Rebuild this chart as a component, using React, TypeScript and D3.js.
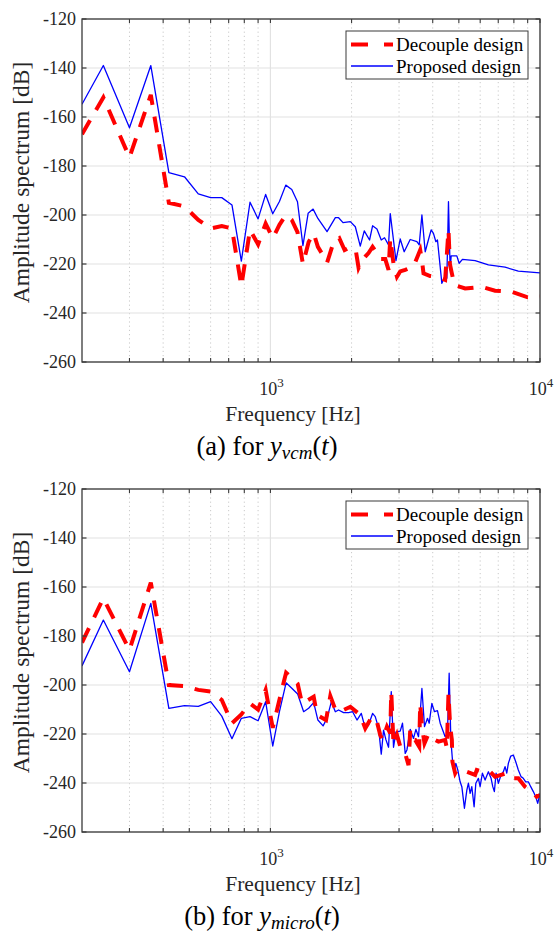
import React from "react";
import * as d3 from "d3";

// ---------- data ----------
// Panel (a): y_vcm
const aDecoupleFreq = [200,240,300,360,420,480,540,600,660,720,780,840,900,960,1020,1080,1140,1200,1260,1320,1386,1447,1500,1568,1622,1716,1801,1884,1979,2077,2123,2173,2248,2312,2393,2484,2555,2667,2743,2783,2862,2947,3030,3162,3394,3594,3647,3697,3914,4201,4448,4576,4631,4710,4815,5275,6083,6813,7856,9003,10000];
const aDecoupleAmp = [-167,-152,-176.5,-151,-195,-196.5,-202,-205.5,-204.5,-205.5,-229,-206,-212,-203.5,-209.5,-204,-200,-202,-207,-220,-211,-207.5,-213,-216.5,-219.5,-211,-209.5,-214.3,-213,-215,-221.5,-219,-217,-215.5,-213,-215.5,-218,-218,-222.4,-209.5,-220,-225.2,-223,-222.4,-221,-214.3,-218.4,-223.8,-224.9,-225.4,-226.5,-206.1,-220,-223.8,-228.6,-230,-229.3,-230.9,-231.3,-233.6,-233.3];
const aProposedFreq = [200,240,300,360,420,480,540,600,660,720,780,840,900,960,1020,1080,1140,1200,1260,1320,1380,1440,1500,1622,1741,1790,1859,1979,2065,2154,2229,2332,2393,2484,2577,2650,2743,2783,2922,3030,3135,3300,3494,3564,3647,3751,3858,3947,4025,4109,4165,4325,4422,4513,4576,4642,4682,4914,5012,5155,5745,6435,7420,8310,10000];
const aProposedAmp = [-154.8,-139,-164.4,-139,-182.7,-184.4,-191.4,-192.9,-192.9,-195.9,-218.8,-194.8,-201.6,-191.6,-199.5,-194.5,-187.8,-189.6,-194.6,-212.5,-199.3,-197.6,-201.4,-206.8,-201.1,-201.1,-203.1,-202.7,-204.8,-212.7,-206.5,-210.2,-204.4,-205.7,-210.2,-209.3,-212.2,-199.4,-218.6,-209.8,-215,-210,-210.9,-212.2,-200,-215,-210,-206.1,-207.5,-210.9,-210.2,-227.9,-225.4,-225.8,-194.6,-222.4,-216.7,-216.7,-219.7,-218.1,-218.6,-220.4,-221.3,-222.9,-223.6];

// Panel (b): y_micro
const bDecoupleFreq = [200,240,300,360,420,480,540,600,660,720,780,840,900,960,1020,1080,1143,1203,1262,1310,1386,1447,1489,1608,1668,1741,1801,1979,2154,2248,2380,2484,2555,2606,2706,2783,2807,2862,2947,3030,3162,3253,3300,3394,3444,3564,3594,3647,3729,3858,3971,4201,4448,4513,4576,4642,4710,4734,4844,4914,5129,5353,5745,5829,6166,6529,6813,7528,7856,8310,8799,9183,9723,10000];
const bDecoupleAmp = [-182.7,-164.6,-185.7,-158.2,-200,-200.4,-202,-202.7,-206.1,-215.6,-212,-207.5,-210,-202,-217.5,-206,-195,-197.3,-199.5,-207.5,-206,-204.8,-212.2,-214.3,-204.5,-210,-211,-208.9,-212.2,-217.7,-212.9,-215,-220.4,-222.4,-217,-219.7,-202.7,-224.5,-220.4,-225,-228,-232.7,-218.4,-222.4,-222.4,-225.2,-207.5,-217,-223.8,-220,-221.8,-223.1,-222.4,-225.8,-203.4,-217,-222.4,-231.3,-236,-234.7,-235.4,-235.4,-236.7,-234.7,-235.4,-235.4,-237.4,-236,-238.1,-238.1,-241.5,-242.9,-245.6,-244.9];
const bProposedFreq = [200,240,300,360,420,480,540,600,660,720,780,840,900,960,1020,1080,1143,1203,1262,1328,1386,1447,1500,1568,1622,1683,1741,1790,1868,1950,2018,2095,2173,2248,2312,2393,2448,2518,2577,2628,2683,2743,2807,2862,2922,3030,3090,3162,3209,3300,3394,3465,3543,3647,3729,3825,3881,3971,4060,4165,4263,4448,4537,4603,4670,4734,4803,4873,4956,5055,5129,5244,5353,5426,5506,5585,5696,5780,5909,5995,6114,6257,6435,6585,6681,6772,6871,7008,7171,7313,7420,7528,7631,7789,7963,8128,8310,8503,8671,8851,9050,9238,9446,9640,9806,10000];
const bProposedAmp = [-192.2,-173.5,-194.6,-166.7,-209.5,-208.4,-208.7,-206.8,-212.7,-221.9,-213.6,-212.9,-214.6,-206.8,-224.9,-210.9,-199.1,-201.4,-203.7,-210.9,-209.5,-207.2,-214.3,-216.7,-213.6,-206.8,-210.9,-210.2,-211.3,-211.3,-210.9,-214.3,-211.6,-217.7,-216.3,-211.6,-212.9,-217.5,-228.2,-218.4,-222.4,-225.4,-202.7,-225.4,-219.1,-218.8,-215.6,-227.9,-226.5,-218.1,-221.8,-218.1,-221.1,-201.4,-217,-213.6,-215.6,-207.5,-210.9,-210.5,-215.6,-221.1,-219.7,-195.2,-222.4,-230.6,-235.4,-232,-234.7,-239.5,-241.5,-250.3,-242.9,-240.1,-244.2,-241.5,-249.7,-240.1,-238.1,-241.5,-236,-238.8,-235.4,-238.1,-241.5,-243.5,-236,-240.1,-236.7,-235.4,-233.3,-236,-232,-229,-228.6,-231.3,-234.7,-237.4,-238.1,-239.5,-239.5,-241.5,-243.5,-245.6,-248.3,-244.2];

const yTicks = [-260, -240, -220, -200, -180, -160, -140, -120];
const xMajorTicks = [1000, 10000];
const xMajorLabels = ["3", "4"];
const xMinorTicks = [300, 400, 500, 600, 700, 800, 900, 2000, 3000, 4000, 5000, 6000, 7000, 8000, 9000];
const seriesNames = ["Decouple design", "Proposed design"];

const FONT = "Liberation Serif";
const W = 555;
const H = 933;

const L = 82, R = 540;

type PanelProps = {
  top: number;
  id: string;
  dFreq: number[];
  dAmp: number[];
  pFreq: number[];
  pAmp: number[];
  capLetter: string;
  capSub: string;
  capX: number;
};

function Panel({ top, id, dFreq, dAmp, pFreq, pAmp, capLetter, capSub, capX }: PanelProps) {
  const bottom = top + 343;
  const x = d3.scaleLog().domain([200, 10000]).range([L, R]);
  const y = d3.scaleLinear().domain([-260, -120]).range([bottom, top]);
  const line = d3
    .line<[number, number]>()
    .x((d) => x(d[0]))
    .y((d) => y(d[1]));
  const dPts = dFreq.map((f, i) => [f, dAmp[i]] as [number, number]);
  const pPts = pFreq.map((f, i) => [f, pAmp[i]] as [number, number]);
  const axisColor = "#3a3a3a";
  const legX = 346, legY = top + 12, legW = 182, legH = 48;
  return (
    <g>
      <defs>
        <clipPath id={"clip" + id}>
          <rect x={L} y={top} width={R - L} height={bottom - top} />
        </clipPath>
      </defs>
      <rect x={L} y={top} width={R - L} height={bottom - top} fill="#fff" />
      {/* grid */}
      {xMinorTicks.map((t) => (
        <line key={"mg" + t} x1={x(t)} x2={x(t)} y1={top} y2={bottom} stroke="#c9c9c9" strokeWidth={1} strokeDasharray="1.2,3" />
      ))}
      {yTicks.map((t) => (
        <line key={"yg" + t} x1={L} x2={R} y1={y(t)} y2={y(t)} stroke="#e2e2e2" strokeWidth={1.2} />
      ))}
      {xMajorTicks.map((t) => (
        <line key={"xg" + t} x1={x(t)} x2={x(t)} y1={top} y2={bottom} stroke="#e2e2e2" strokeWidth={1.2} />
      ))}
      {/* data */}
      <g clipPath={`url(#clip${id})`}>
        <path d={line(pPts) || ""} fill="none" stroke="#0000ff" strokeWidth={1.3} strokeLinejoin="round" />
        <path d={line(dPts) || ""} fill="none" stroke="#ff0000" strokeWidth={4} strokeDasharray="16,12" />
      </g>
      {/* axes box */}
      <rect x={L} y={top} width={R - L} height={bottom - top} fill="none" stroke={axisColor} strokeWidth={1.3} />
      {/* y ticks */}
      {yTicks.map((t) => (
        <g key={"yt" + t}>
          <line x1={L} x2={L + 4.5} y1={y(t)} y2={y(t)} stroke={axisColor} strokeWidth={1.2} />
          <line x1={R} x2={R - 4.5} y1={y(t)} y2={y(t)} stroke={axisColor} strokeWidth={1.2} />
          <text x={L - 6} y={y(t) + 6} textAnchor="end" fontFamily={FONT} fontSize={18} fill="#262626">
            {t}
          </text>
        </g>
      ))}
      {/* x ticks */}
      {[...xMinorTicks, ...xMajorTicks].map((t) => (
        <g key={"xt" + t}>
          <line x1={x(t)} x2={x(t)} y1={bottom} y2={bottom - 4} stroke={axisColor} strokeWidth={1.1} />
          <line x1={x(t)} x2={x(t)} y1={top} y2={top + 4} stroke={axisColor} strokeWidth={1.1} />
        </g>
      ))}
      {xMajorTicks.map((t, i) => (
        <text key={"xl" + t} x={x(t) + 1} y={bottom + 33} textAnchor="middle" fontFamily={FONT} fontSize={18} fill="#262626">
          10
          <tspan fontSize={13} dy={-8}>
            {xMajorLabels[i]}
          </tspan>
        </text>
      ))}
      {/* axis labels */}
      <text x={293} y={bottom + 59} textAnchor="middle" fontFamily={FONT} fontSize={21.5} fill="#262626">
        Frequency [Hz]
      </text>
      <text
        transform={`translate(${29},${(top + bottom) / 2 - 8}) rotate(-90)`}
        textAnchor="middle"
        fontFamily={FONT}
        fontSize={23.5}
        fill="#262626"
      >
        Amplitude spectrum [dB]
      </text>
      {/* legend */}
      <rect x={legX} y={legY} width={legW} height={legH} fill="#fff" stroke={axisColor} strokeWidth={1} />
      <line x1={351} x2={393} y1={legY + 13.5} y2={legY + 13.5} stroke="#ff0000" strokeWidth={4} strokeDasharray="17,16" />
      <line x1={351} x2={393} y1={legY + 35} y2={legY + 35} stroke="#0000ff" strokeWidth={1.3} />
      <text x={396} y={legY + 20} fontFamily={FONT} fontSize={19} fill="#000">
        {seriesNames[0]}
      </text>
      <text x={396} y={legY + 41.5} fontFamily={FONT} fontSize={19} fill="#000">
        {seriesNames[1]}
      </text>
      {/* caption */}
      <text x={capX} y={bottom + 93} textAnchor="middle" fontFamily={FONT} fontSize={26.5} fill="#000">
        {`(${capLetter}) for `}
        <tspan fontStyle="italic">y</tspan>
        <tspan fontStyle="italic" fontSize={19} dy={4}>
          {capSub}
        </tspan>
        <tspan dy={-4}>(</tspan>
        <tspan fontStyle="italic">t</tspan>
        <tspan>)</tspan>
      </text>
    </g>
  );
}

export default function App() {
  return (
    <svg width={W} height={H} viewBox={`0 0 ${W} ${H}`} style={{ display: "block", position: "absolute", left: 0, top: 0, background: "#fff" }}>
      <rect x={0} y={0} width={W} height={H} fill="#fff" />
      <Panel top={19} id="a" dFreq={aDecoupleFreq} dAmp={aDecoupleAmp} pFreq={aProposedFreq} pAmp={aProposedAmp} capLetter="a" capSub="vcm" capX={267} />
      <Panel top={489} id="b" dFreq={bDecoupleFreq} dAmp={bDecoupleAmp} pFreq={bProposedFreq} pAmp={bProposedAmp} capLetter="b" capSub="micro" capX={262} />
    </svg>
  );
}
